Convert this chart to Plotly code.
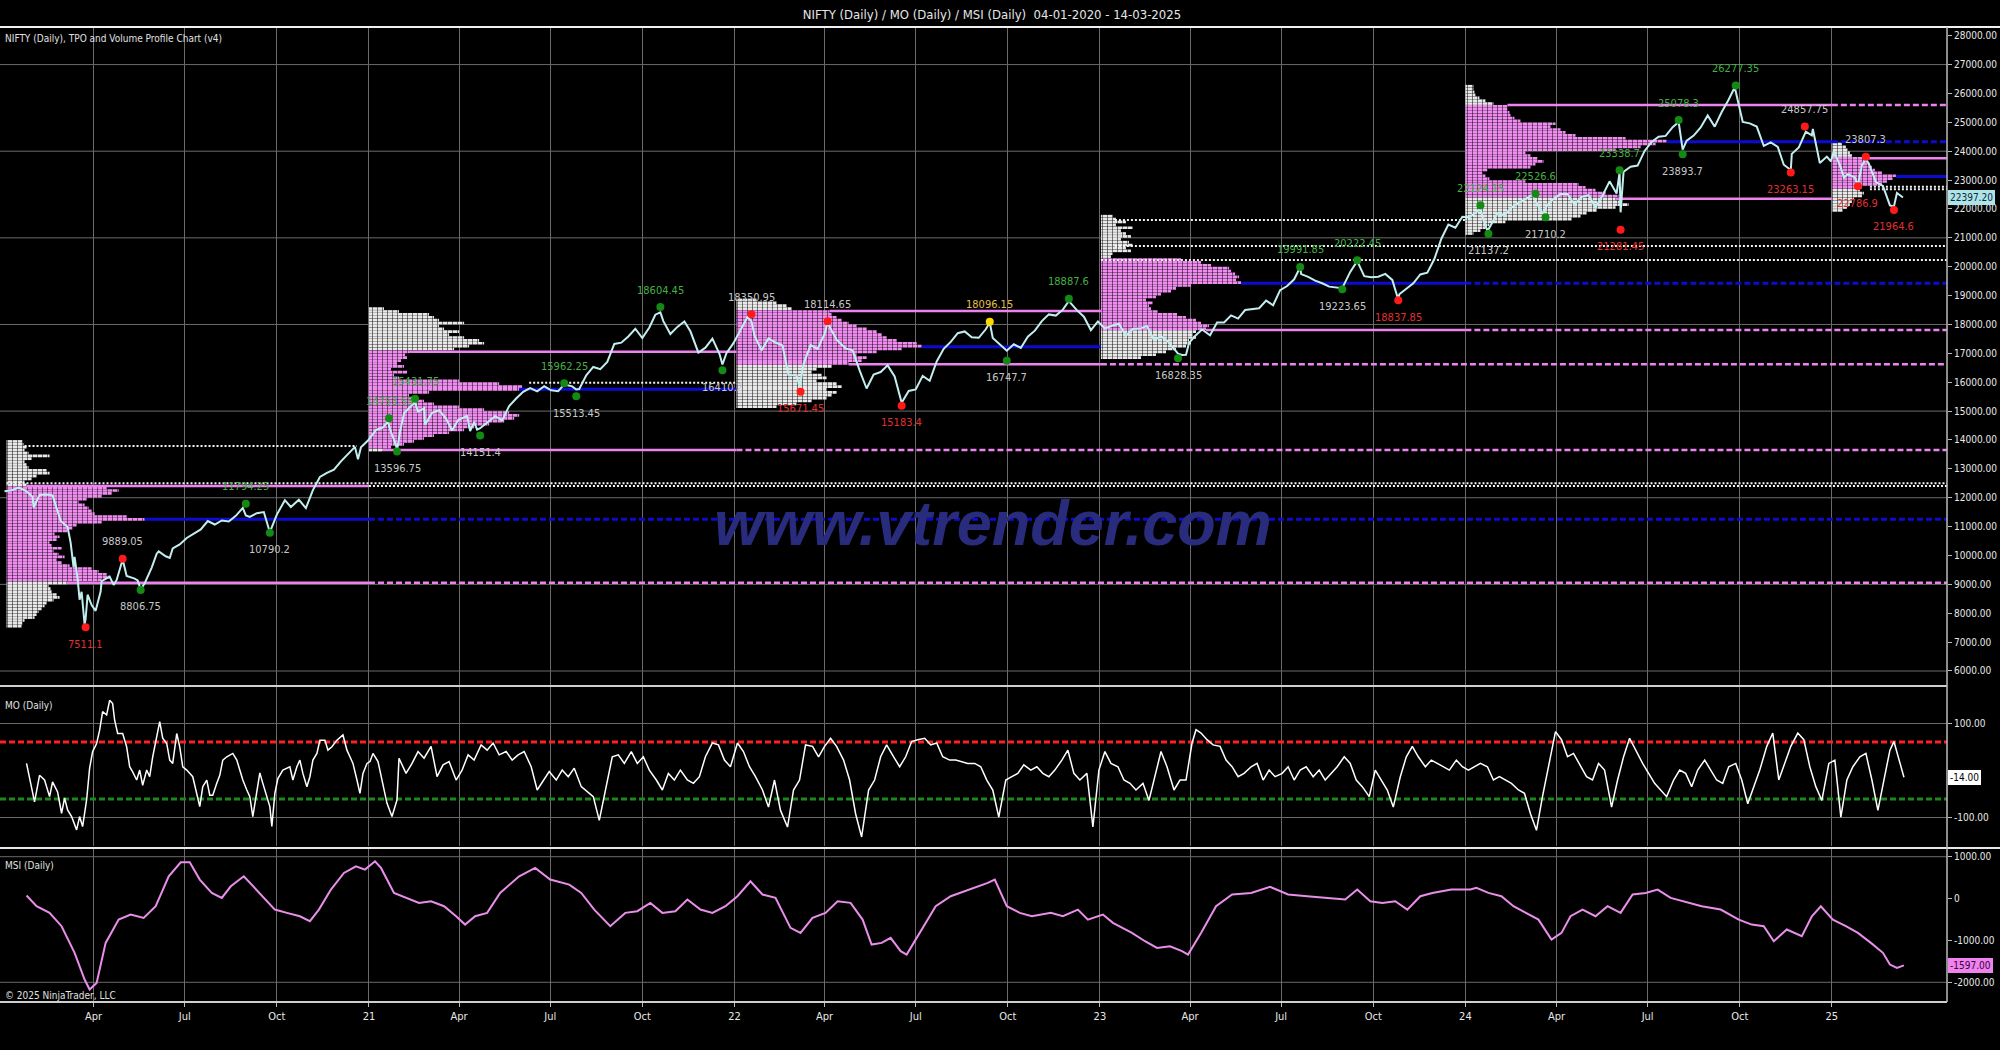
import pandas as pd
import plotly.graph_objects as go

T0 = pd.Timestamp("2020-01-01")


def to_day(dates):
    return [(pd.Timestamp(d) - T0).days for d in dates]


# ---------------------------------------------------------------- data
price_dates_2020 = ["2020-01-03","2020-01-10","2020-01-17","2020-01-24","2020-01-31","2020-02-01","2020-02-07","2020-02-14","2020-02-20","2020-02-28","2020-03-06","2020-03-09","2020-03-12","2020-03-13","2020-03-16","2020-03-18","2020-03-20","2020-03-23","2020-03-24","2020-03-26","2020-03-30","2020-04-03","2020-04-08","2020-04-09","2020-04-17","2020-04-21","2020-04-24","2020-04-30","2020-05-04","2020-05-08","2020-05-12","2020-05-15","2020-05-18","2020-05-22","2020-05-29","2020-06-03","2020-06-05","2020-06-12","2020-06-16","2020-06-19","2020-06-26","2020-07-03","2020-07-10","2020-07-17","2020-07-24","2020-07-31","2020-08-07","2020-08-14","2020-08-21","2020-08-28","2020-08-31","2020-09-04","2020-09-11","2020-09-18","2020-09-24","2020-10-01","2020-10-09","2020-10-15","2020-10-23","2020-10-30","2020-11-06","2020-11-13","2020-11-20","2020-11-27","2020-12-04","2020-12-11","2020-12-18","2020-12-21","2020-12-24","2020-12-31"]
price_close_2020 = [12226,12257,12352,12248,12035,11662,12098,12113,12080,11202,10989,10451,9590,9955,9197,8468,8745,7610,7801,8641,8281,8084,8749,9112,9267,8981,9154,9860,9294,9252,9197,9137,8823,9039,9580,10062,10142,9972,9914,10244,10383,10607,10768,10902,11194,11073,11214,11178,11372,11647,11388,11333,11464,11504,10805,11417,11914,11680,11930,11642,12263,12720,12859,12969,13258,13514,13761,13328,13749,13982]

price_dates_2021 = ["2021-01-08","2021-01-15","2021-01-20","2021-01-22","2021-01-28","2021-01-29","2021-02-01","2021-02-05","2021-02-12","2021-02-16","2021-02-19","2021-02-25","2021-02-26","2021-03-05","2021-03-12","2021-03-19","2021-03-25","2021-03-31","2021-04-09","2021-04-12","2021-04-16","2021-04-19","2021-04-22","2021-04-30","2021-05-07","2021-05-14","2021-05-21","2021-05-28","2021-06-04","2021-06-11","2021-06-18","2021-06-25","2021-07-02","2021-07-09","2021-07-15","2021-07-23","2021-07-27","2021-07-30","2021-08-06","2021-08-13","2021-08-20","2021-08-27","2021-09-03","2021-09-10","2021-09-17","2021-09-24","2021-10-01","2021-10-08","2021-10-14","2021-10-19","2021-10-22","2021-10-29","2021-11-05","2021-11-12","2021-11-18","2021-11-26","2021-12-03","2021-12-10","2021-12-17","2021-12-20","2021-12-24","2021-12-31"]
price_close_2021 = [14347,14434,14644,14372,13818,13635,14281,14924,15163,15314,14982,15097,14529,14938,15031,14744,14325,14691,14835,14310,14617,14359,14406,14631,14823,14677,15175,15435,15670,15799,15683,15860,15722,15689,15924,15856,15746,15763,16238,16529,16450,16705,17324,17369,17585,17853,17532,17895,18338,18418,18114,17671,17916,18102,17764,17026,17196,17511,16985,16614,17003,17354]

price_dates_2022 = ["2022-01-07","2022-01-14","2022-01-18","2022-01-21","2022-01-28","2022-02-04","2022-02-11","2022-02-18","2022-02-24","2022-03-04","2022-03-07","2022-03-08","2022-03-11","2022-03-18","2022-03-25","2022-04-01","2022-04-04","2022-04-08","2022-04-13","2022-04-22","2022-04-29","2022-05-06","2022-05-12","2022-05-13","2022-05-20","2022-05-27","2022-06-03","2022-06-10","2022-06-17","2022-06-24","2022-07-01","2022-07-08","2022-07-15","2022-07-22","2022-07-29","2022-08-05","2022-08-12","2022-08-19","2022-08-26","2022-09-02","2022-09-09","2022-09-13","2022-09-16","2022-09-23","2022-09-30","2022-10-07","2022-10-14","2022-10-21","2022-10-28","2022-11-04","2022-11-11","2022-11-18","2022-11-25","2022-12-01","2022-12-09","2022-12-16","2022-12-23","2022-12-30"]
price_close_2022 = [17812,18255,18113,17617,17102,17516,17374,17276,16248,16245,15863,16013,16630,17287,17153,17670,18053,17784,17475,17171,17102,16411,15808,15782,16266,16352,16584,16201,15293,15699,15752,16220,16049,16719,17158,17397,17698,17758,17558,17539,17833,18070,17530,17327,17094,17314,17185,17576,17786,18117,18349,18307,18512,18812,18497,18269,17806,18105]

price_dates_2023 = ["2023-01-06","2023-01-13","2023-01-20","2023-01-27","2023-02-03","2023-02-10","2023-02-17","2023-02-24","2023-03-03","2023-03-10","2023-03-17","2023-03-20","2023-03-24","2023-03-28","2023-03-31","2023-04-06","2023-04-13","2023-04-21","2023-04-28","2023-05-05","2023-05-12","2023-05-19","2023-05-26","2023-06-02","2023-06-09","2023-06-16","2023-06-23","2023-06-30","2023-07-07","2023-07-14","2023-07-20","2023-07-21","2023-07-28","2023-08-04","2023-08-11","2023-08-18","2023-08-25","2023-08-31","2023-09-08","2023-09-15","2023-09-22","2023-09-29","2023-10-06","2023-10-13","2023-10-20","2023-10-26","2023-10-27","2023-11-03","2023-11-10","2023-11-17","2023-11-24","2023-12-01","2023-12-08","2023-12-15","2023-12-22","2023-12-29"]
price_close_2023 = [17859,17956,18027,17604,17854,17856,17944,17465,17594,17413,17100,16988,16945,16951,17360,17599,17828,17624,18065,18069,18315,18203,18499,18534,18563,18826,18665,19189,19332,19564,19979,19745,19646,19517,19428,19310,19266,19254,19820,20192,19674,19638,19654,19751,19542,18857,19047,19230,19425,19731,19794,20267,20969,21456,21349,21731]

price_dates_2024 = ["2024-01-05","2024-01-12","2024-01-16","2024-01-19","2024-01-23","2024-01-25","2024-02-02","2024-02-09","2024-02-16","2024-02-23","2024-03-01","2024-03-08","2024-03-15","2024-03-19","2024-03-22","2024-03-28","2024-04-05","2024-04-12","2024-04-19","2024-04-26","2024-05-03","2024-05-10","2024-05-17","2024-05-24","2024-05-31","2024-06-03","2024-06-04","2024-06-07","2024-06-14","2024-06-21","2024-06-28","2024-07-05","2024-07-12","2024-07-19","2024-07-26","2024-08-01","2024-08-02","2024-08-05","2024-08-09","2024-08-16","2024-08-23","2024-08-30","2024-09-06","2024-09-13","2024-09-20","2024-09-26","2024-10-04","2024-10-11","2024-10-18","2024-10-25","2024-11-01","2024-11-08","2024-11-14","2024-11-21","2024-11-22","2024-11-29","2024-12-06","2024-12-12","2024-12-13","2024-12-20","2024-12-27","2024-12-31"]
price_close_2024 = [21710,21894,22032,21622,21239,21353,21853,21782,22041,22212,22338,22493,22023,21817,22096,22327,22514,22519,22147,22419,22475,22055,22466,22957,22531,23264,21884,23290,23465,23501,24010,24323,24502,24531,24834,25011,24718,24056,24367,24541,24823,25235,24852,25357,25791,26216,25014,24964,24854,24181,24304,24148,23532,23350,23907,24131,24677,24549,24768,23588,23813,23645]

price_dates_2025 = ["2025-01-03","2025-01-10","2025-01-13","2025-01-17","2025-01-24","2025-01-27","2025-01-31","2025-02-04","2025-02-07","2025-02-14","2025-02-21","2025-02-28","2025-03-04","2025-03-07","2025-03-13"]
price_close_2025 = [24005,23432,23086,23203,23092,22829,23508,23739,23560,22929,22796,22125,22083,22553,22397]

price_last = 22397.20

# MO oscillator: (days since 2020-01-01, value)
mo_series = [(24,15),(32,-66),(37,-10),(42,-20),(47,-55),(50,-24),(55,-45),(59,-90),(62,-58),(65,-83),(69,-97),(74,-125),(77,-97),(80,-118),(84,-62),(87,5),(90,40),(94,57),(97,85),(100,124),(104,117),(107,148),(110,141),(112,106),(115,78),(120,78),(124,50),(127,8),(130,-3),(134,-20),(137,1),(140,-31),(144,1),(147,-13),(150,29),(154,71),(157,103),(160,68),(164,57),(167,22),(170,15),(174,78),(177,50),(180,8),(184,1),(190,-13),(194,-48),(197,-76),(200,-34),(204,-20),(207,-52),(210,-52),(214,-27),(217,-10),(220,22),(224,29),(230,36),(234,22),(237,1),(240,-20),(244,-41),(247,-55),(250,-97),(254,-41),(257,-5),(260,-27),(264,-55),(267,-76),(269,-118),(272,-48),(275,-17),(280,1),(287,8),(290,-20),(294,8),(297,22),(300,-6),(304,-34),(307,-13),(310,22),(314,36),(317,64),(322,64),(325,43),(329,50),(334,64),(340,75),(344,43),(347,29),(350,15),(354,-20),(357,-48),(360,-6),(364,15),(367,19),(370,36),(375,19),(380,-34),(384,-69),(389,-97),(394,-62),
    (396,26),(403,-6),(409,15),(415,40),(421,26),(428,51),(434,-13),(440,12),(446,19),(453,-20),(459,1),(465,33),(471,22),(478,54),(484,43),(490,58),(496,33),(503,40),(509,22),(515,33),(521,40),(528,8),(534,-41),(540,-20),(546,-2),(553,-20),(559,1),(565,-13),(571,5),(578,-34),(584,-45),(590,-55),(596,-105),(603,-34),(609,29),(615,33),(621,15),(628,40),(634,15),(640,29),(646,1),(653,-20),(659,-41),(665,-6),(671,-20),(677,1),(684,-20),(690,-27),(696,-13),(702,29),(709,58),(715,54),(721,22),(727,8),(734,58),(740,40),(746,8),(752,-13),(759,-41),(765,-77),(771,-20),(777,-84),(784,-119),(790,-41),(796,-20),(802,54),(809,51),(815,29),(821,51),(827,68),(833,51),(840,22),(846,-20),(852,-91),(858,-140),(865,-41),(871,-20),(877,29),(883,54),(890,29),(896,8),(902,29),(908,61),(914,65),(921,68),(927,54),(933,58),(939,29),(946,22),(952,22),(958,19),(964,15),(971,15),(977,8),(983,-20),(989,-41),(995,-98),
    (1002,-20),(1008,-13),(1014,-6),(1020,12),(1027,1),(1033,8),(1039,-6),(1045,-13),(1051,1),(1058,22),(1064,43),(1070,-6),(1076,-20),(1083,-6),(1089,-119),(1095,1),(1101,40),(1107,15),(1114,8),(1120,-20),(1126,-27),(1132,-41),(1139,-27),(1145,-63),(1151,-13),(1157,40),(1163,8),(1170,-41),(1176,-20),(1182,-20),(1188,58),(1192,86),(1197,79),(1203,65),(1209,54),(1216,51),(1222,22),(1228,8),(1234,-13),(1240,-6),(1247,8),(1253,15),(1259,-20),(1265,1),(1271,-13),(1278,-6),(1284,8),(1290,-20),(1296,1),(1302,8),(1309,-13),(1315,1),(1321,-20),(1327,-6),(1333,8),(1340,29),(1346,15),(1352,-20),(1358,-34),(1365,-55),(1371,1),(1377,-20),(1383,-41),(1389,-77),(1396,-13),(1402,29),(1408,51),(1414,29),(1421,8),(1427,22),(1433,15),(1439,8),(1445,1),(1452,22),(1458,8),(1464,1),(1470,8),(1476,15),(1483,8),(1489,-20),(1495,-13),(1501,-20),(1507,-27),(1514,-41),(1520,-48),(1526,-91),(1532,-126),(1538,-55),(1545,15),(1551,82),(1557,65),(1563,29),(1569,36),(1576,8),(1582,-13),(1588,-20),(1594,15),(1600,1),(1607,-77),(1613,-20),(1619,29),(1625,68),(1631,43),(1638,15),(1644,-6),(1650,-27),(1656,-41),(1662,-55),(1669,-20),(1675,1),(1681,-6),(1687,-34),(1693,1),(1700,22),(1706,1),(1712,-20),(1718,-27),(1724,8),(1731,15),(1737,-20),(1743,-70),(1749,-34),(1755,1),(1762,51),(1768,79),(1774,-20),(1780,15),(1786,51),(1793,79),(1799,65),(1805,8),(1811,-34),(1817,-63),(1824,15),(1830,22),(1836,-98),(1842,-20),(1848,8),(1855,29),(1861,36),(1867,-20),(1873,-84),(1879,-20),(1885,43),(1889,61),(1899,-14)]
mo_upper = 60
mo_lower = -60
mo_last = -14.00

# MSI: (days since 2020-01-01, value)
msi_series = [(24,72),(34,-183),(47,-342),(59,-660),(72,-1297),(82,-1934),(87,-2173),(94,-2014),(103,-1059),(116,-500),(128,-382),(141,-462),(153,-183),(166,533),(178,868),(187,868),(197,454),(209,135),(219,16),(228,294),(241,533),(247,374),(259,56),(272,-263),(284,-342),(297,-422),(307,-541),(316,-263),(328,215),(341,613),(353,772),(362,692),(372,891),(378,732),(391,135),(403,16),(416,-103),(428,-64),(441,-183),(453,-422),(462,-621),(472,-422),(484,-342),(497,135),(516,533),(532,732),(547,454),(566,334),(578,135),(591,-263),(607,-660),(622,-342),(634,-302),(647,-103),(659,-342),(672,-302),(684,-24),(697,-263),(709,-342),(722,-183),(734,56),(747,414),(759,96),(772,16),(787,-700),(797,-820),(809,-462),(822,-342),(834,-64),(847,-103),(859,-502),(868,-1099),(878,-1059),(887,-939),(897,-1257),(903,-1337),(916,-820),(932,-183),(947,56),(966,215),(984,374),(991,454),(1003,-183),(1016,-342),(1028,-422),(1047,-342),(1059,-422),(1074,-263),(1084,-502),(1099,-382),(1109,-581),(1128,-820),(1141,-1019),(1153,-1178),(1166,-1138),(1178,-1257),(1184,-1337),(1197,-820),(1212,-183),(1228,96),(1247,135),(1266,279),(1284,96),(1303,56),(1322,16),(1341,-24),(1353,215),(1366,-64),(1378,-103),(1391,-64),(1403,-263),(1416,56),(1428,135),(1447,215),(1466,215),(1472,255),(1484,135),(1497,56),(1509,-183),(1522,-342),(1534,-502),(1547,-979),(1557,-820),(1566,-422),(1578,-263),(1591,-422),(1603,-183),(1616,-342),(1628,96),(1641,135),(1653,215),(1666,16),(1678,-64),(1697,-183),(1716,-263),(1734,-502),(1747,-621),(1759,-660),(1769,-1019),(1782,-740),(1797,-899),(1807,-422),(1816,-183),(1828,-502),(1841,-660),(1853,-820),(1866,-1059),(1878,-1297),(1885,-1576),(1892,-1656),(1899,-1597)]
msi_last = -1597.00

# Yearly volume profiles: row lengths (days) per 100-point bin, bottom-up
profile_start = ["2020-01-05", "2021-01-01", "2022-01-03", "2023-01-02", "2024-01-01", "2025-01-01"]
profile_low = [7500, 13600, 15100, 16800, 21100, 21900]
profile_bin = 100
profile_2020 = [15,16,18,28,30,32,35,38,40,47,53,50,45,44,42,60,95,103,100,92,85,63,55,50,58,52,47,55,45,43,50,53,48,62,66,70,95,138,120,88,85,82,78,72,80,95,105,112,100,20,18,25,30,43,40,22,20,18,25,43,22,18,20,17,16]
profile_2021 = [13,22,35,45,55,65,80,95,105,120,135,145,150,140,115,90,65,55,45,40,60,150,153,130,90,30,25,38,22,35,28,32,38,36,40,85,100,115,110,95,80,90,75,70,95,70,65,60,30,15]
profile_2022 = [40,60,75,90,95,100,90,105,100,80,90,85,75,80,95,112,125,130,120,140,165,185,180,160,150,145,140,130,120,112,105,100,95,93,55,50,40,20]
profile_2023 = [40,55,65,75,85,90,88,95,92,95,105,108,100,95,85,76,57,50,48,52,45,55,60,70,75,90,140,135,138,134,130,128,110,100,80,10,12,30,25,32,28,20,30,25,20,32,15,25,15,12]
profile_2024 = [8,15,20,24,40,106,115,121,131,150,163,155,150,153,140,130,120,113,60,24,20,17,22,65,70,78,72,65,60,150,175,190,201,160,110,100,95,85,90,55,49,45,44,42,42,28,20,14,10,9,8,8]
profile_2025 = [11,15,18,20,22,30,32,28,30,50,55,61,64,50,43,40,38,35,32,20,18,16,14,10]
profiles = [profile_2020, profile_2021, profile_2022, profile_2023, profile_2024, profile_2025]

profile_val = [9060, 13657, 16623, 17810, 22355, 22730]
profile_vah = [12408, 17058, 18468, 20260, 25600, 23755]
profile_poc = [11255, 15756, 17232, 19426, 24330, 23120]
poc_naked = [True, False, False, True, True, True]
vah_drawn = [True, True, True, False, True, True]
vah_naked = [False, False, False, False, True, True]
val_drawn = [True, True, True, True, True, False]
val_naked = [True, True, True, True, False, False]

dotted_level = [13795, 12501, 12408, 15985, 21620, 20720, 20230, 22770, 22680]
dotted_from = ["2020-01-23", "2020-01-05", "2021-01-01", "2021-06-10", "2023-01-16", "2023-01-16", "2023-01-02", "2025-02-08", "2025-02-08"]
dotted_to = ["2020-12-20", "2025-04-26", "2025-04-26", "2022-01-03", "2024-01-01", "2025-04-26", "2025-04-26", "2025-04-26", "2025-04-26"]
chart_end = "2025-04-26"

# swing labels
swing_dates = ["2020-03-24","2020-04-30","2020-05-18","2020-08-31","2020-09-24","2021-01-21","2021-01-29","2021-02-16","2021-04-22","2021-07-15","2021-07-27","2021-10-19","2021-12-20","2022-01-18","2022-03-08","2022-04-04","2022-06-17","2022-09-13","2022-09-30","2022-12-01","2023-03-20","2023-07-20","2023-08-31","2023-09-15","2023-10-26","2024-01-16","2024-01-24","2024-03-11","2024-03-21","2024-06-03","2024-06-04","2024-08-01","2024-08-05","2024-09-27","2024-11-21","2024-12-05","2025-01-27","2025-02-04","2025-03-04"]
swing_values = [7511.1,9889.05,8806.75,11794.25,10790.2,14753.55,13596.75,15431.75,14151.4,15962.25,15513.45,18604.45,16410.2,18350.95,15671.45,18114.65,15183.4,18096.15,16747.7,18887.6,16828.35,19991.85,19223.65,20222.45,18837.85,22124.15,21137.2,22526.6,21710.2,23338.7,21281.45,25078.3,23893.7,26277.35,23263.15,24857.75,22786.9,23807.3,21964.6]
swing_text = ["7511.1","9889.05","8806.75","11794.25","10790.2","14753.55","13596.75","15431.75","14151.4","15962.25","15513.45","18604.45","16410.2","18350.95","15671.45","18114.65","15183.4","18096.15","16747.7","18887.6","16828.35","19991.85","19223.65","20222.45","18837.85","22124.15","21137.2","22526.6","21710.2","23338.7","21281.45","25078.3","23893.7","26277.35","23263.15","24857.75","22786.9","23807.3","21964.6"]
swing_kind = ["lr","hr","lg","hg","lg","hg","lg","hg","lg","hg","lg","hg","lg","hr","lr","hr","lr","hy","lg","hg","lg","hg","lg","hg","lr","hg","lg","hg","lg","hg","lr","hg","lg","hg","lr","hr","lr","hr","lr"]

quarter_dates = ["2020-04-01","2020-07-01","2020-10-01","2021-01-01","2021-04-01","2021-07-01","2021-10-01","2022-01-01","2022-04-01","2022-07-01","2022-10-01","2023-01-01","2023-04-01","2023-07-01","2023-10-01","2024-01-01","2024-04-01","2024-07-01","2024-10-01","2025-01-01"]
quarter_labels = ["Apr","Jul","Oct","21","Apr","Jul","Oct","22","Apr","Jul","Oct","23","Apr","Jul","Oct","24","Apr","Jul","Oct","25"]
price_ticks = list(range(6000, 28001, 1000))
price_grid = [6000, 9000, 12000, 15000, 18000, 21000, 24000, 27000]

# ---------------------------------------------------------------- style
FONT = "Liberation Sans Narrow, Arial Narrow, DejaVu Sans Condensed, Liberation Sans, sans-serif"
GRID = "#6a6a6a"
PINK = "#ee82ee"
BLUE = "#0c0cd0"

fig = go.Figure()

x_end = to_day([chart_end])[0]
starts = to_day(profile_start)


def row_len(i, level):
    k = int((level - profile_low[i]) // profile_bin)
    k = max(0, min(k, len(profiles[i]) - 1))
    return profiles[i][k]


segs = {"blue": ([], []), "blued": ([], []), "pink": ([], []), "pinkd": ([], []), "dot": ([], [])}


def add_seg(key, x0, x1, v):
    xs, ys = segs[key]
    xs += [x0, x1, None]
    ys += [v, v, None]


for i in range(len(profiles)):
    nxt = starts[i + 1] if i + 1 < len(starts) else x_end
    add_seg("blue", starts[i] + row_len(i, profile_poc[i]), nxt, profile_poc[i])
    if i + 1 < len(starts) and poc_naked[i]:
        add_seg("blued", nxt, x_end, profile_poc[i])
    if vah_drawn[i]:
        add_seg("pink", starts[i] + row_len(i, profile_vah[i] - 1), nxt, profile_vah[i])
        if i + 1 < len(starts) and vah_naked[i]:
            add_seg("pinkd", nxt, x_end, profile_vah[i])
    if val_drawn[i]:
        add_seg("pink", starts[i] + row_len(i, profile_val[i] + 1), nxt, profile_val[i])
        if i + 1 < len(starts) and val_naked[i]:
            add_seg("pinkd", nxt, x_end, profile_val[i])

for v, a, b in zip(dotted_level, to_day(dotted_from), to_day(dotted_to)):
    add_seg("dot", a, b, v)

line_styles = {
    "dot": dict(color="#f2f2f2", width=2, dash="2px,2px"),
    "pinkd": dict(color=PINK, width=2.5, dash="6px,3px"),
    "blued": dict(color=BLUE, width=3, dash="6px,3px"),
    "pink": dict(color=PINK, width=2.5),
    "blue": dict(color=BLUE, width=3),
}
for key in ["dot", "pinkd", "blued", "pink", "blue"]:
    xs, ys = segs[key]
    fig.add_trace(go.Scatter(x=xs, y=ys, mode="lines", line=line_styles[key],
                             hoverinfo="skip", xaxis="x", yaxis="y"))

# volume-profile bars
va = dict(x=[], y=[], base=[])
out = dict(x=[], y=[], base=[])
for i, lens in enumerate(profiles):
    for k, L in enumerate(lens):
        yc = profile_low[i] + k * profile_bin + profile_bin / 2
        tgt = va if profile_val[i] <= yc <= profile_vah[i] else out
        tgt["x"].append(L)
        tgt["y"].append(yc)
        tgt["base"].append(starts[i])

for d, col in [(out, "#e8e8e8"), (va, "#f08cf0")]:
    fig.add_trace(go.Bar(
        orientation="h", x=d["x"], y=d["y"], base=d["base"], width=profile_bin * 0.92,
        marker=dict(color=col, line=dict(width=0),
                    pattern=dict(shape="|", fgcolor="black", size=5, solidity=0.2, fillmode="overlay")),
        hoverinfo="skip", xaxis="x", yaxis="y"))

# price line
price_dates = price_dates_2020 + price_dates_2021 + price_dates_2022 + price_dates_2023 + price_dates_2024 + price_dates_2025
price_close = price_close_2020 + price_close_2021 + price_close_2022 + price_close_2023 + price_close_2024 + price_close_2025
fig.add_trace(go.Scatter(x=to_day(price_dates), y=price_close, mode="lines",
                         line=dict(color="#c2eef0", width=2), hoverinfo="skip", xaxis="x", yaxis="y"))

# swing markers + labels
kind_style = {
    "hg": ("#138a13", "#46b046", 1),
    "lg": ("#138a13", "#c8c8c8", -1),
    "hr": ("#ff1a1a", "#c8c8c8", 1),
    "lr": ("#ff1a1a", "#e03030", -1),
    "hy": ("#ffd700", "#e2c048", 1),
}
swing_x = to_day(swing_dates)
annotations = []
for kind, (mcol, tcol, side) in kind_style.items():
    idx = [j for j, k in enumerate(swing_kind) if k == kind]
    fig.add_trace(go.Scatter(x=[swing_x[j] for j in idx], y=[swing_values[j] for j in idx],
                             mode="markers", marker=dict(color=mcol, size=8, symbol="circle"),
                             hoverinfo="skip", xaxis="x", yaxis="y"))
    for j in idx:
        annotations.append(dict(x=swing_x[j], y=swing_values[j], xref="x", yref="y",
                                text=swing_text[j], showarrow=False,
                                yshift=17 * side, font=dict(family=FONT, size=11, color=tcol)))

# MO panel
mo_x = [p[0] for p in mo_series]
mo_y = [p[1] for p in mo_series]
fig.add_trace(go.Scatter(x=[-2.5, x_end], y=[mo_upper, mo_upper], mode="lines",
                         line=dict(color="#ff2020", width=3, dash="6px,3px"), hoverinfo="skip", xaxis="x", yaxis="y2"))
fig.add_trace(go.Scatter(x=[-2.5, x_end], y=[mo_lower, mo_lower], mode="lines",
                         line=dict(color="#1a8a1a", width=3, dash="6px,3px"), hoverinfo="skip", xaxis="x", yaxis="y2"))
fig.add_trace(go.Scatter(x=mo_x, y=mo_y, mode="lines", line=dict(color="#ffffff", width=1.5),
                         hoverinfo="skip", xaxis="x", yaxis="y2"))

# MSI panel
fig.add_trace(go.Scatter(x=[p[0] for p in msi_series], y=[p[1] for p in msi_series], mode="lines",
                         line=dict(color="#e98ee9", width=2), hoverinfo="skip", xaxis="x", yaxis="y3"))

# ---------------------------------------------------------------- layout
shapes = []
for g in price_grid:
    shapes.append(dict(type="line", xref="paper", yref="y", x0=0, x1=1, y0=g, y1=g,
                       line=dict(color=GRID, width=1), layer="below"))
for g in [1000, -2000]:
    shapes.append(dict(type="line", xref="paper", yref="y3", x0=0, x1=1, y0=g, y1=g,
                       line=dict(color=GRID, width=1), layer="below"))
W = 2000 / 1947
shapes += [
    dict(type="line", xref="paper", yref="paper", x0=0, x1=W, y0=1, y1=1, line=dict(color="#f0f0f0", width=2)),
    dict(type="line", xref="paper", yref="paper", x0=0, x1=1, y0=0.3241, y1=0.3241, line=dict(color="#cfcfcf", width=2)),
    dict(type="line", xref="paper", yref="paper", x0=0, x1=W, y0=0.1580, y1=0.1580, line=dict(color="#e8e8e8", width=2)),
    dict(type="line", xref="paper", yref="paper", x0=0, x1=1, y0=0, y1=0, line=dict(color="#cfcfcf", width=2)),
    dict(type="line", xref="paper", yref="paper", x0=1, x1=1, y0=0, y1=1, line=dict(color="#bdbdbd", width=1.5)),
]

annotations += [
    dict(xref="paper", yref="paper", x=0.0015, y=0.988, xanchor="left", yanchor="middle", showarrow=False,
         text="NIFTY (Daily), TPO and Volume Profile Chart (v4)", font=dict(family=FONT, size=10, color="#e0e0e0")),
    dict(xref="paper", yref="paper", x=0.0015, y=0.3046, xanchor="left", yanchor="middle", showarrow=False,
         text="MO (Daily)", font=dict(family=FONT, size=10, color="#e0e0e0")),
    dict(xref="paper", yref="paper", x=0.0015, y=0.1395, xanchor="left", yanchor="middle", showarrow=False,
         text="MSI (Daily)", font=dict(family=FONT, size=10, color="#e0e0e0")),
    dict(xref="paper", yref="paper", x=0.0015, y=0.0062, xanchor="left", yanchor="middle", showarrow=False,
         text="© 2025 NinjaTrader, LLC", font=dict(family=FONT, size=10, color="#e0e0e0")),
    dict(xref="paper", yref="paper", x=0.51, y=0.4913, xanchor="center", yanchor="middle", showarrow=False,
         text="<b><i>www.vtrender.com</i></b>", font=dict(family="Liberation Sans, Arial, sans-serif", size=63, color="#292c7c")),
    dict(xref="paper", yref="y", x=1, y=price_last, xanchor="left", xshift=1, showarrow=False,
         text=f"{price_last:.2f}", bgcolor="#aee3e8", bordercolor="#aee3e8", borderpad=1,
         font=dict(family=FONT, size=10, color="#0b2a3a")),
    dict(xref="paper", yref="y2", x=1, y=mo_last, xanchor="left", xshift=1, showarrow=False,
         text=f"{mo_last:.2f}", bgcolor="#ffffff", bordercolor="#ffffff", borderpad=1,
         font=dict(family=FONT, size=10, color="#000000")),
    dict(xref="paper", yref="y3", x=1, y=msi_last, xanchor="left", xshift=1, showarrow=False,
         text=f"{msi_last:.2f}", bgcolor=PINK, bordercolor=PINK, borderpad=1,
         font=dict(family=FONT, size=10, color="#3a003a")),
]

AXF = dict(family=FONT, size=10, color="#e8e8e8")
XF = dict(family=FONT, size=11, color="#e8e8e8")
fig.update_layout(
    width=2000, height=1050,
    margin=dict(l=0, r=53, t=27, b=48),
    paper_bgcolor="#000000", plot_bgcolor="#000000",
    showlegend=False, barmode="overlay", hovermode=False,
    title=dict(text="NIFTY (Daily) / MO (Daily) / MSI (Daily)  04-01-2020 - 14-03-2025",
               x=0.496, xanchor="center", y=0.9867, yanchor="middle", yref="container",
               font=dict(family=FONT, size=13, color="#e6e6e6")),
    xaxis=dict(domain=[0, 1], anchor="y3", range=[-2.5, x_end], tickmode="array",
               tickvals=to_day(quarter_dates), ticktext=quarter_labels,
               showgrid=True, gridcolor=GRID, gridwidth=1, zeroline=False, showline=False,
               ticks="outside", ticklen=4, tickcolor="#bbbbbb", tickfont=XF),
    yaxis=dict(domain=[0.32513, 1], range=[5515, 28301], side="right", anchor="x",
               tickmode="array", tickvals=price_ticks, tickformat=".2f",
               showgrid=False, zeroline=False, ticks="outside", ticklen=4, tickcolor="#bbbbbb", tickfont=AXF),
    yaxis2=dict(domain=[0.16, 0.32308], range=[-159, 176], side="right", anchor="x",
                tickmode="array", tickvals=[100, -100], ticktext=["100.00", "-100.00"],
                showgrid=True, gridcolor=GRID, zeroline=False, ticks="outside", ticklen=4,
                tickcolor="#bbbbbb", tickfont=AXF),
    yaxis3=dict(domain=[0, 0.15692], range=[-2471, 1184], side="right", anchor="x",
                tickmode="array", tickvals=[1000, 0, -1000, -2000],
                ticktext=["1000.00", "0", "-1000.00", "-2000.00"],
                showgrid=False, zeroline=False, ticks="outside", ticklen=4,
                tickcolor="#bbbbbb", tickfont=AXF),
    shapes=shapes, annotations=annotations,
)

fig.write_html("out.html", config={"displayModeBar": False})

# remove the default page margin so the figure sits at the window's top-left corner
with open("out.html", encoding="utf-8") as fh:
    page = fh.read()
page = page.replace("<head>", "<head><style>html,body{margin:0;padding:0;overflow:hidden;background:#000}</style>", 1)
with open("out.html", "w", encoding="utf-8") as fh:
    fh.write(page)
